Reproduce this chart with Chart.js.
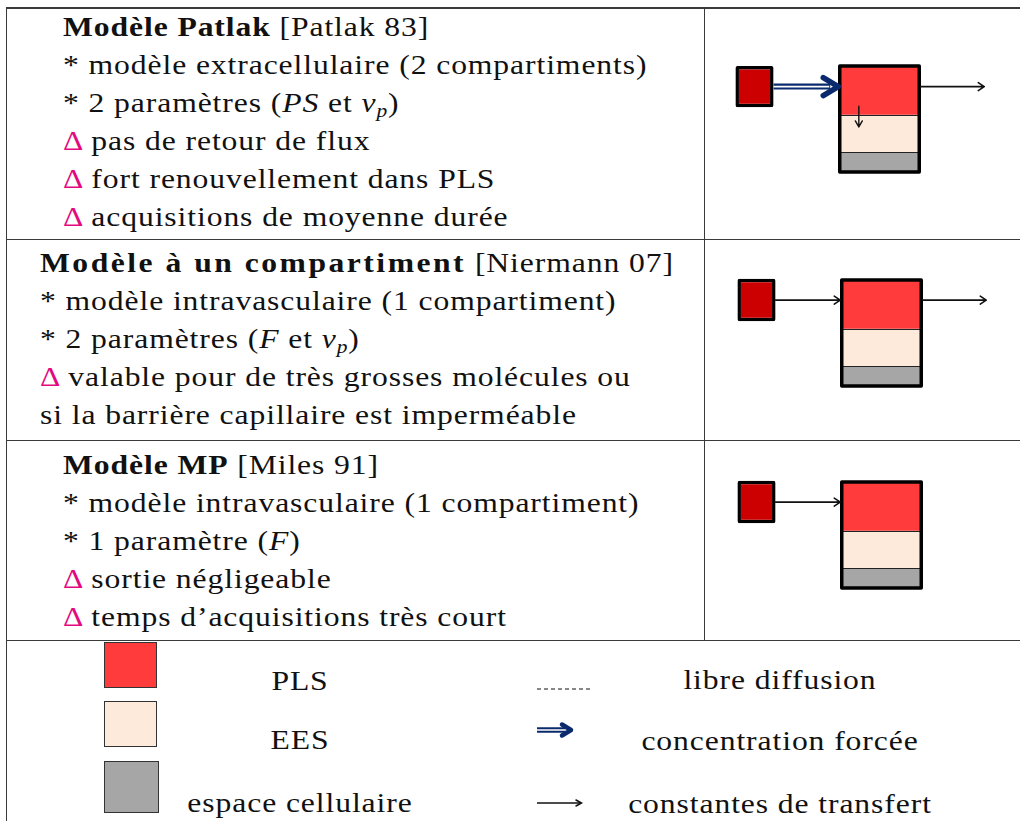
<!DOCTYPE html>
<html lang="fr">
<head>
<meta charset="utf-8">
<title>Modèles pharmacocinétiques</title>
<script src="https://cdn.jsdelivr.net/npm/chart.js@4.4.1/dist/chart.umd.min.js"></script>
<style>
  html, body { margin: 0; padding: 0; background: #fff; }
  body { position: relative; width: 1020px; height: 821px; overflow: hidden;
         font-family: "Liberation Serif", "DejaVu Serif", serif; font-size: 28px; color: #111;
         letter-spacing: 0.8px; }
  .rule { position: absolute; background: #3a3a3a; }
  .cell { position: absolute; line-height: 38px; white-space: nowrap;
          transform: scaleX(1.13); transform-origin: 0 0; }
  .wide { letter-spacing: 2.2px; }
  .d { color: #e5097f; }
  sub { font-size: 68%; line-height: 0; vertical-align: -0.28em; }
  .lab { position: absolute; width: 400px; text-align: center; line-height: 38px; white-space: nowrap;
         transform: scaleX(1.13); transform-origin: 50% 0; }
  .sw { position: absolute; border: 1px solid #333; box-sizing: border-box; }
  canvas { position: absolute; }
</style>
</head>
<body>

<div class="rule" style="left:6px;top:7px;width:1100px;height:1.5px"></div>
<div class="rule" style="left:6px;top:238.5px;width:1100px;height:1.5px"></div>
<div class="rule" style="left:6px;top:439.5px;width:1100px;height:1.5px"></div>
<div class="rule" style="left:6px;top:639.5px;width:1100px;height:1.5px"></div>
<div class="rule" style="left:5.5px;top:7px;width:1.5px;height:900px"></div>
<div class="rule" style="left:703.5px;top:7px;width:1.5px;height:633px"></div>

<div class="cell" style="left:63px;top:8px">
  <b>Modèle Patlak</b> [Patlak 83]<br>
  * modèle extracellulaire (2 compartiments)<br>
  * 2 paramètres (<i>PS</i> et <i>v<sub>p</sub></i>)<br>
  <span class="d">Δ</span> pas de retour de flux<br>
  <span class="d">Δ</span> fort renouvellement dans PLS<br>
  <span class="d">Δ</span> acquisitions de moyenne durée
</div>
<div class="cell" style="left:40px;top:244px">
  <b class="wide">Modèle à un compartiment</b> [Niermann 07]<br>
  * modèle intravasculaire (1 compartiment)<br>
  * 2 paramètres (<i>F</i> et <i>v<sub>p</sub></i>)<br>
  <span class="d">Δ</span> valable pour de très grosses molécules ou<br>
  si la barrière capillaire est imperméable
</div>
<div class="cell" style="left:63px;top:446px">
  <b>Modèle MP</b> [Miles 91]<br>
  * modèle intravasculaire (1 compartiment)<br>
  * 1 paramètre (<i>F</i>)<br>
  <span class="d">Δ</span> sortie négligeable<br>
  <span class="d">Δ</span> temps d’acquisitions très court
</div>

<canvas id="c0" width="375" height="138" style="left:692px;top:50px"></canvas>
<canvas id="c1" width="375" height="138" style="left:694px;top:264px"></canvas>
<canvas id="c2" width="375" height="138" style="left:694px;top:466px"></canvas>

<div class="sw" style="left:104px;top:642px;width:53px;height:46px;background:#ff3b3b"></div>
<div class="sw" style="left:104px;top:701px;width:53px;height:46px;background:#fdeadb"></div>
<div class="sw" style="left:104px;top:761px;width:55px;height:52px;background:#a6a6a6"></div>
<div class="lab" style="left:100px;top:662px">PLS</div>
<div class="lab" style="left:100px;top:721px">EES</div>
<div class="lab" style="left:100px;top:784px">espace cellulaire</div>

<svg style="position:absolute;left:530px;top:680px" width="70" height="135">
  <line x1="7" y1="9" x2="63" y2="9" stroke="#111" stroke-width="1" stroke-dasharray="4 3"/>
  <line x1="7" y1="50" x2="35" y2="50" stroke="#0b2a6e" stroke-width="5.5"/>
  <line x1="7" y1="50" x2="36" y2="50" stroke="#fff" stroke-width="1.5"/>
  <polyline points="32,44.5 41,50 32,55.5" fill="none" stroke="#0b2a6e" stroke-width="4.5" stroke-linecap="round" stroke-linejoin="round"/>
  <line x1="7" y1="123" x2="51" y2="123" stroke="#111" stroke-width="1.5"/>
  <polyline points="46,120 51.5,123 46,126" fill="none" stroke="#111" stroke-width="1.5" stroke-linecap="round"/>
</svg>
<div class="lab" style="left:580px;top:661px">libre diffusion</div>
<div class="lab" style="left:580px;top:722px">concentration forcée</div>
<div class="lab" style="left:580px;top:785px">constantes de transfert</div>

<script>
const models = ["Patlak", "Un compartiment", "MP"];
const slots = ["artère", "tissu", "sortie"];
// relative compartment heights (tissue box height = 1)
const plsHeight = [0.46, 0.46, 0.46];
const eesHeight = [0.35, 0.35, 0.35];
const cellHeight = [0.19, 0.19, 0.19];
// arterial input box [bottom, top]
const arteryBox = [[0.61, 1.0], [0.61, 1.01], [0.61, 1.01]];
const inflow = ["forcée", "transfert", "transfert"];
const outflow = [true, true, false];
const plsToEes = [true, false, false];

const NAVY = "#0b2a6e";

function simpleArrow(ctx, x0, x1, y) {
  ctx.strokeStyle = "#111";
  ctx.lineWidth = 1.6;
  ctx.lineCap = "round";
  ctx.beginPath();
  ctx.moveTo(x0, y);
  ctx.lineTo(x1, y);
  ctx.moveTo(x1 - 6, y - 4);
  ctx.lineTo(x1, y);
  ctx.lineTo(x1 - 6, y + 4);
  ctx.stroke();
}

function forcedArrow(ctx, x0, x1, y) {
  ctx.lineCap = "butt";
  ctx.strokeStyle = NAVY;
  ctx.lineWidth = 6;
  ctx.beginPath();
  ctx.moveTo(x0, y);
  ctx.lineTo(x1 - 8, y);
  ctx.stroke();
  ctx.strokeStyle = "#fff";
  ctx.lineWidth = 1.8;
  ctx.beginPath();
  ctx.moveTo(x0, y);
  ctx.lineTo(x1 - 9, y);
  ctx.stroke();
  ctx.strokeStyle = NAVY;
  ctx.lineWidth = 5.5;
  ctx.lineCap = "round";
  ctx.lineJoin = "round";
  ctx.beginPath();
  ctx.moveTo(x1 - 15, y - 9);
  ctx.lineTo(x1, y);
  ctx.lineTo(x1 - 15, y + 9);
  ctx.stroke();
}

const flows = {
  id: "flows",
  afterDatasetsDraw(chart, args, opts) {
    const m = opts.model;
    const ctx = chart.ctx;
    const ys = chart.scales.y;
    const box = chart.getDatasetMeta(0).data[0];
    const cell = chart.getDatasetMeta(1).data[1];
    const pls = chart.getDatasetMeta(3).data[1];
    const left = pls.x - pls.width / 2;
    const right = pls.x + pls.width / 2;
    const top = pls.y;
    const bottom = cell.base;
    ctx.save();
    ctx.strokeStyle = "#000";
    ctx.lineWidth = 3.5;
    ctx.lineJoin = "round";
    ctx.strokeRect(left, top, right - left, bottom - top);

    const ay = (box.y + box.base) / 2;
    const bx = box.x + box.width / 2;
    if (inflow[m] === "forcée") forcedArrow(ctx, bx, left - 1.5, ay);
    else simpleArrow(ctx, bx, left - 1.5, ay);
    if (outflow[m]) simpleArrow(ctx, right + 1.5, right + 65, ay);
    if (plsToEes[m]) {
      const x = left + 0.24 * (right - left);
      const y0 = ys.getPixelForValue(0.62), y1 = ys.getPixelForValue(0.425);
      ctx.strokeStyle = "#111";
      ctx.lineWidth = 1.4;
      ctx.lineCap = "round";
      ctx.beginPath();
      ctx.moveTo(x, y0);
      ctx.lineTo(x, y1);
      ctx.moveTo(x - 3.5, y1 - 6);
      ctx.lineTo(x, y1);
      ctx.lineTo(x + 3.5, y1 - 6);
      ctx.stroke();
    }
    ctx.restore();
  }
};

function onlyTissue(v) { return [null, v, null]; }

models.forEach((name, m) => {
  new Chart(document.getElementById("c" + m), {
    type: "bar",
    data: {
      labels: slots,
      datasets: [
        { label: "artère", data: [arteryBox[m], null, null], backgroundColor: "#cc0000",
          borderColor: "#000", borderWidth: 3.5, borderSkipped: false, borderRadius: 2,
          barPercentage: 0.305 },
        { label: "espace cellulaire", data: onlyTissue(cellHeight[m]), backgroundColor: "#a6a6a6",
          borderColor: "#222", borderWidth: { top: 1.2 }, borderSkipped: false, barPercentage: 0.636 },
        { label: "EES", data: onlyTissue(eesHeight[m]), backgroundColor: "#fdeadb",
          borderColor: "#222", borderWidth: { top: 1.2 }, borderSkipped: false, barPercentage: 0.636 },
        { label: "PLS", data: onlyTissue(plsHeight[m]), backgroundColor: "#ff3b3b",
          borderWidth: 0, barPercentage: 0.636 }
      ]
    },
    options: {
      responsive: false,
      animation: false,
      devicePixelRatio: 1,
      layout: { padding: 0 },
      datasets: { bar: { categoryPercentage: 1 } },
      scales: {
        x: { display: false, stacked: true, offset: true },
        y: { display: false, stacked: true, min: -0.15, max: 1.15 }
      },
      plugins: { legend: { display: false }, tooltip: { enabled: false }, flows: { model: m } }
    },
    plugins: [flows]
  });
});
</script>
</body>
</html>
